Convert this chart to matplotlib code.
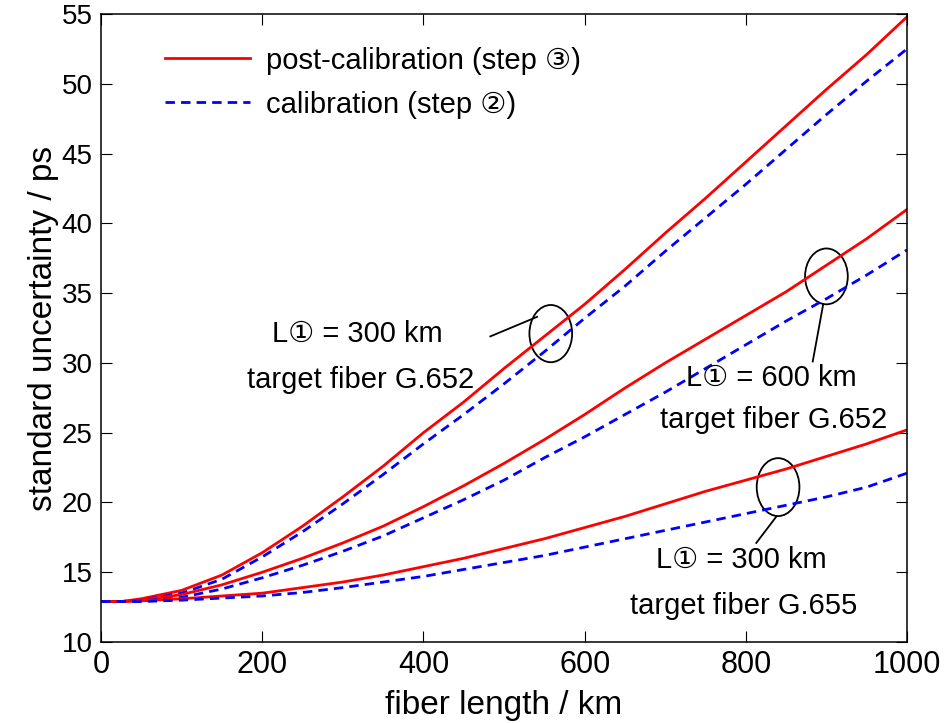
import numpy as np
import matplotlib
matplotlib.use("Agg")
import matplotlib.pyplot as plt
from matplotlib.patches import Ellipse

plt.rcParams["font.family"] = ["Liberation Sans", "DejaVu Sans"]

# fiber length (km)
length = [0, 25, 50, 100, 150, 200, 250, 300, 350, 400, 450, 500,
          550, 600, 650, 700, 750, 800, 850, 900, 950, 1000]

# L1 = 300 km, target G.652
g652_300_post = [12.9, 12.9, 13.1, 13.7, 14.8, 16.4, 18.3, 20.4, 22.6, 25.0, 27.2, 29.6,
                 31.9, 34.2, 36.7, 39.3, 41.8, 44.4, 47.0, 49.6, 52.1, 54.8]
g652_300_cal = [12.9, 12.9, 13.0, 13.5, 14.5, 16.1, 17.9, 19.9, 22.0, 24.2, 26.3, 28.5,
                30.8, 33.2, 35.5, 38.0, 40.4, 42.8, 45.3, 47.8, 50.2, 52.5]

# L1 = 600 km, target G.652
g652_600_post = [12.9, 12.9, 13.0, 13.4, 14.1, 15.0, 16.0, 17.1, 18.3, 19.7, 21.2, 22.8,
                 24.5, 26.3, 28.2, 30.0, 31.7, 33.4, 35.1, 37.0, 38.9, 41.0]
g652_600_cal = [12.9, 12.9, 12.95, 13.2, 13.8, 14.6, 15.5, 16.5, 17.6, 18.9, 20.2, 21.6,
                23.2, 24.7, 26.3, 27.9, 29.6, 31.3, 33.0, 34.6, 36.3, 38.1]

# L1 = 300 km, target G.655
g655_300_post = [12.9, 12.9, 12.95, 13.1, 13.3, 13.5, 13.9, 14.3, 14.8, 15.4, 16.0, 16.7,
                 17.4, 18.2, 19.0, 19.9, 20.8, 21.6, 22.4, 23.3, 24.2, 25.2]
g655_300_cal = [12.9, 12.9, 12.9, 13.0, 13.15, 13.3, 13.55, 13.9, 14.3, 14.7, 15.2, 15.7,
                16.2, 16.8, 17.4, 18.0, 18.6, 19.2, 19.8, 20.4, 21.1, 22.1]

fig = plt.figure(figsize=(9.46, 7.23), dpi=100)
ax = fig.add_axes([0.1068, 0.112, 0.852, 0.8686])

red = dict(color="#ff0000", lw=2.0, ls="-")
blue = dict(color="#0000ff", lw=2.0, ls=(0, (3.4, 2.2)))

ax.plot(length, g652_300_post, label="post-calibration (step \u2462)", **red)
ax.plot(length, g652_300_cal, label="calibration (step \u2461)", **blue)
ax.plot(length, g652_600_post, **red)
ax.plot(length, g652_600_cal, **blue)
ax.plot(length, g655_300_post, **red)
ax.plot(length, g655_300_cal, **blue)

ax.set_xlim(0, 1000)
ax.set_ylim(10, 55)
ax.set_xticks(range(0, 1001, 200))
ax.set_yticks(range(10, 56, 5))
ax.tick_params(direction="in", top=True, right=True, length=8, width=0.8,
               labelsize=20, pad=6)
for lab in ax.get_xticklabels():
    lab.set_fontsize(22)
for s in ax.spines.values():
    s.set_linewidth(1.1)

ax.set_xlabel("fiber length / km", fontsize=24, labelpad=7)
ax.set_ylabel("standard uncertainty / ps", fontsize=24, labelpad=2)

leg = ax.legend(loc="upper left", bbox_to_anchor=(0.047, 0.99), frameon=False,
                fontsize=21, handlelength=2.9, handletextpad=0.55, labelspacing=0.55)

# ellipses and pointer lines
ell_kw = dict(fill=False, ec="black", lw=1.3)
ax.add_patch(Ellipse((558, 32.1), 53, 4.1, **ell_kw))
ax.add_patch(Ellipse((900, 36.2), 53, 4.0, **ell_kw))
ax.add_patch(Ellipse((840, 21.1), 53, 4.15, **ell_kw))
ax.plot([483, 541], [31.9, 33.3], color="black", lw=1.3)
ax.plot([896, 883], [34.2, 30.1], color="black", lw=1.3)
ax.plot([838, 813], [19.0, 17.1], color="black", lw=1.3)

txt = dict(fontsize=21, ha="center", va="center")
ax.text(318, 32.1, "L\u2460 = 300 km", **txt)
ax.text(322, 28.8, "target fiber G.652", **txt)
ax.text(832, 28.9, "L\u2460 = 600 km", **txt)
ax.text(834, 25.9, "target fiber G.652", **txt)
ax.text(795, 15.9, "L\u2460 = 300 km", **txt)
ax.text(797, 12.6, "target fiber G.655", **txt)

fig.savefig("out.png", dpi=100)
